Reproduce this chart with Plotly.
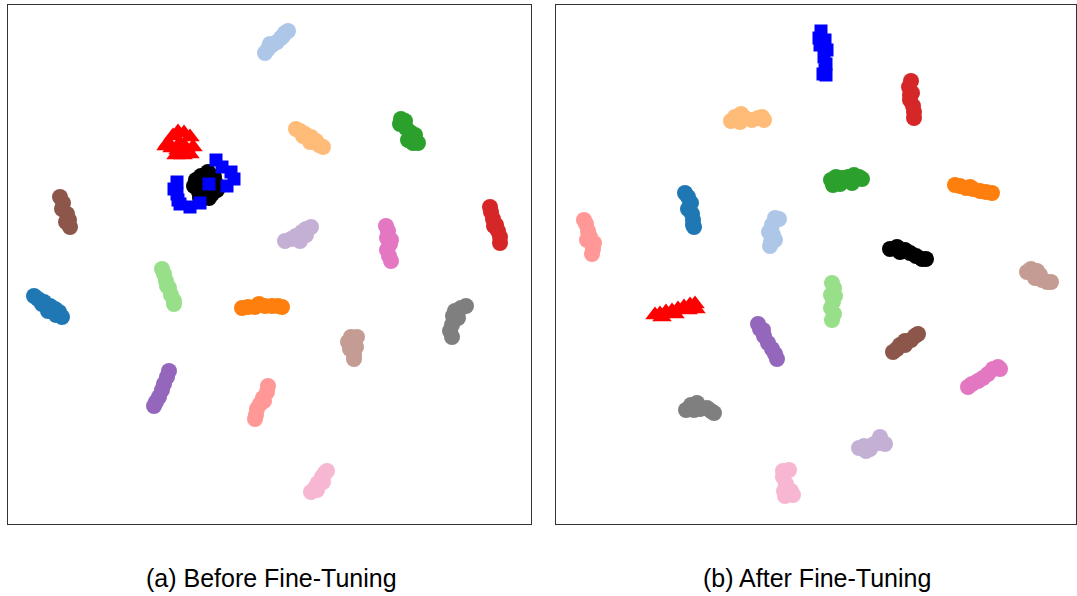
import plotly.graph_objects as go

# ---------------- Panel (a): Before Fine-Tuning (embedding coords) ----------------
a_lightblue = [(265, 53), (268, 49), (272, 45), (277, 42), (281, 38), (285, 33), (288, 31), (270, 44), (283, 36)]
a_lightorange = [(296, 129), (300, 131), (305, 134), (311, 137), (316, 141), (319, 145), (323, 147), (310, 142), (303, 136)]
a_green = [(401, 119), (405, 121), (400, 124), (406, 128), (410, 132), (415, 135), (408, 140), (413, 143), (418, 143)]
a_red = [(490, 207), (491, 212), (493, 219), (496, 225), (498, 231), (500, 237), (500, 243), (494, 226)]
a_pink = [(386, 226), (388, 231), (387, 238), (390, 244), (387, 250), (389, 256), (391, 261), (391, 240)]
a_lavender = [(285, 241), (291, 239), (296, 236), (302, 232), (306, 229), (311, 227), (300, 241), (306, 235)]
a_brown = [(60, 197), (63, 203), (62, 209), (67, 214), (69, 220), (70, 227), (66, 222)]
a_blue = [(34, 296), (38, 299), (44, 302), (50, 306), (55, 309), (59, 312), (62, 317), (48, 311), (42, 304), (56, 315)]
a_lightgreen = [(162, 269), (164, 274), (166, 281), (169, 288), (171, 295), (174, 301), (174, 304), (167, 286)]
a_orange = [(242, 308), (248, 307), (255, 307), (259, 304), (265, 306), (272, 306), (278, 306), (282, 307)]
a_gray = [(466, 306), (461, 308), (455, 311), (453, 316), (458, 318), (452, 325), (450, 331), (452, 337)]
a_tan = [(351, 337), (348, 342), (354, 340), (356, 347), (350, 349), (354, 355), (354, 359), (357, 337)]
a_purple = [(169, 371), (167, 377), (164, 384), (162, 390), (159, 397), (156, 402), (154, 406)]
a_lightred = [(268, 386), (267, 392), (263, 398), (260, 404), (257, 409), (256, 415), (255, 419), (264, 401)]
a_lightpink = [(311, 492), (315, 488), (318, 483), (322, 477), (325, 473), (327, 471), (317, 490), (323, 482)]
a_black = [(196, 180), (201, 176), (208, 172), (214, 177), (216, 184), (205, 188), (212, 194), (199, 192),
           (209, 198), (194, 186), (203, 183), (200, 198), (217, 190)]
a_redtri = [(168, 143), (173, 136), (178, 132), (184, 133), (190, 137), (180, 143), (186, 148), (178, 150),
            (193, 147), (172, 148), (183, 155), (176, 155), (190, 154), (166, 146)]
a_bluesq = [(216, 160), (222, 167), (231, 172), (234, 179), (227, 186), (209, 184), (177, 182), (177, 194),
            (180, 204), (190, 207), (200, 203), (174, 189), (178, 200)]

# ---------------- Panel (b): After Fine-Tuning ----------------
b_bluesq = [(821, 31), (819, 38), (825, 40), (820, 45), (827, 50), (824, 57), (826, 64), (825, 70), (826, 75), (823, 74)]
b_red = [(911, 81), (909, 87), (912, 93), (910, 100), (913, 106), (914, 112), (914, 118), (910, 95)]
b_lightorange = [(731, 121), (735, 117), (741, 114), (745, 118), (752, 120), (758, 118), (762, 117), (764, 120), (740, 122)]
b_green = [(831, 180), (836, 177), (842, 178), (848, 177), (854, 175), (859, 177), (862, 179), (840, 184), (852, 183), (833, 185)]
b_orange = [(955, 185), (960, 186), (966, 188), (973, 189), (980, 191), (986, 192), (992, 193), (970, 187)]
b_blue = [(685, 193), (688, 197), (691, 203), (688, 209), (692, 214), (693, 220), (693, 225), (694, 227)]
b_lightred = [(584, 220), (586, 224), (588, 231), (590, 237), (594, 243), (593, 249), (592, 254), (587, 240)]
b_lightblue = [(775, 218), (779, 219), (772, 225), (769, 232), (773, 235), (771, 242), (775, 240), (770, 246)]
b_black = [(890, 249), (897, 247), (905, 250), (910, 253), (916, 256), (922, 259), (926, 259), (900, 252)]
b_tan = [(1027, 272), (1031, 269), (1037, 271), (1035, 278), (1042, 280), (1047, 282), (1051, 282), (1040, 275)]
b_redtri = [(655, 315), (660, 314), (666, 312), (672, 311), (678, 309), (684, 307), (690, 305), (695, 304),
            (662, 317), (675, 314), (688, 310), (696, 309)]
b_lightgreen = [(832, 283), (834, 288), (831, 295), (833, 302), (831, 308), (834, 314), (832, 320), (835, 296)]
b_purple = [(758, 324), (760, 329), (764, 336), (768, 343), (772, 349), (775, 354), (777, 359), (763, 330)]
b_brown = [(893, 352), (897, 349), (900, 345), (905, 341), (911, 340), (915, 336), (918, 334), (905, 345)]
b_pink = [(968, 387), (972, 384), (978, 381), (983, 378), (988, 374), (993, 369), (998, 367), (1000, 369)]
b_gray = [(686, 410), (691, 405), (697, 403), (700, 409), (707, 408), (711, 411), (714, 413), (694, 410)]
b_lavender = [(859, 448), (864, 446), (870, 449), (874, 444), (880, 443), (885, 444), (880, 437), (866, 451)]
b_lightpink = [(783, 471), (789, 470), (783, 477), (786, 484), (784, 491), (791, 491), (793, 495), (785, 496)]

captions = ["(a) Before Fine-Tuning", "(b) After Fine-Tuning"]

C = {
    "blue": "#1f77b4", "lightblue": "#aec7e8", "orange": "#ff7f0e", "lightorange": "#ffbb78",
    "green": "#2ca02c", "lightgreen": "#98df8a", "red": "#d62728", "lightred": "#ff9896",
    "purple": "#9467bd", "lavender": "#c5b0d5", "brown": "#8c564b", "tan": "#c49c94",
    "pink": "#e377c2", "lightpink": "#f7b6d2", "gray": "#7f7f7f", "black": "#000000",
    "redtri": "#ff0000", "bluesq": "#0000ff",
}

series = [
    (a_lightblue, "lightblue", "circle", 1), (a_lightorange, "lightorange", "circle", 1),
    (a_green, "green", "circle", 1), (a_red, "red", "circle", 1), (a_pink, "pink", "circle", 1),
    (a_lavender, "lavender", "circle", 1), (a_brown, "brown", "circle", 1), (a_blue, "blue", "circle", 1),
    (a_lightgreen, "lightgreen", "circle", 1), (a_orange, "orange", "circle", 1), (a_gray, "gray", "circle", 1),
    (a_tan, "tan", "circle", 1), (a_purple, "purple", "circle", 1), (a_lightred, "lightred", "circle", 1),
    (a_lightpink, "lightpink", "circle", 1), (a_black, "black", "circle", 1),
    (a_redtri, "redtri", "triangle-up", 1), (a_bluesq, "bluesq", "square", 1),
    (b_bluesq, "bluesq", "square", 2), (b_red, "red", "circle", 2), (b_lightorange, "lightorange", "circle", 2),
    (b_green, "green", "circle", 2), (b_orange, "orange", "circle", 2), (b_blue, "blue", "circle", 2),
    (b_lightred, "lightred", "circle", 2), (b_lightblue, "lightblue", "circle", 2), (b_black, "black", "circle", 2),
    (b_tan, "tan", "circle", 2), (b_redtri, "redtri", "triangle-up", 2), (b_lightgreen, "lightgreen", "circle", 2),
    (b_purple, "purple", "circle", 2), (b_brown, "brown", "circle", 2), (b_pink, "pink", "circle", 2),
    (b_gray, "gray", "circle", 2), (b_lavender, "lavender", "circle", 2), (b_lightpink, "lightpink", "circle", 2),
]

W, H = 1077, 596
fig = go.Figure()
for pts, col, sym, panel in series:
    size = 16 if sym == "circle" else (13 if sym == "square" else 17)
    fig.add_trace(go.Scatter(
        x=[p[0] for p in pts], y=[p[1] for p in pts], mode="markers",
        marker=dict(color=C[col], symbol=sym, size=size, line=dict(width=0)),
        xaxis="x" if panel == 1 else "x2", yaxis="y" if panel == 1 else "y2",
        showlegend=False, hoverinfo="skip"))

ax_common = dict(showgrid=False, zeroline=False, showticklabels=False, ticks="",
                 showline=True, mirror=True, linecolor="#333333", linewidth=1)
ydom = [1 - 524 / H, 1 - 5 / H]
font = dict(family="Liberation Sans, Arial, sans-serif", size=25, color="#000000")
fig.update_layout(
    width=W, height=H, margin=dict(l=0, r=0, t=0, b=0),
    paper_bgcolor="white", plot_bgcolor="white",
    xaxis=dict(domain=[8 / W, 531 / W], range=[8, 531], **ax_common),
    yaxis=dict(domain=ydom, range=[524, 5], anchor="x", **ax_common),
    xaxis2=dict(domain=[556 / W, 1076 / W], range=[556, 1076], anchor="y2", **ax_common),
    yaxis2=dict(domain=ydom, range=[524, 5], anchor="x2", **ax_common),
    annotations=[
        dict(text=captions[0], x=271 / W, y=1 - 578 / H, xref="paper", yref="paper",
             showarrow=False, xanchor="center", yanchor="middle", font=font),
        dict(text=captions[1], x=817 / W, y=1 - 578 / H, xref="paper", yref="paper",
             showarrow=False, xanchor="center", yanchor="middle", font=font),
    ],
)
fig.write_html("out.html")
